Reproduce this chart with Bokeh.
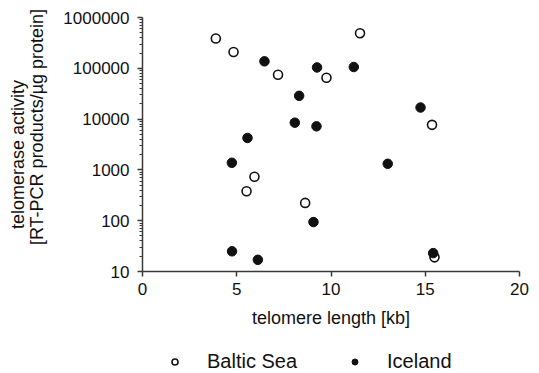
from bokeh.plotting import figure
from bokeh.layouts import column
from bokeh.models import (Range1d, FixedTicker, PrintfTickFormatter,
                          Legend, LegendItem, ColumnDataSource)
from bokeh.embed import file_html
from bokeh.resources import INLINE

# --- data ---
baltic_x = [3.89, 4.83, 7.19, 9.76, 11.54, 15.36, 5.94, 5.52, 8.63, 15.49]
baltic_y = [385000, 209000, 74600, 65200, 490000, 7700, 731, 380, 224, 19]
iceland_x = [6.47, 9.26, 11.21, 8.31, 8.08, 9.23, 5.57, 14.75, 4.74, 13.01,
             9.07, 4.75, 6.12, 15.42]
iceland_y = [137000, 104000, 106000, 28700, 8500, 7200, 4250, 16900, 1380,
             1320, 94, 25, 17, 23]
x_ticks = [0, 5, 10, 15, 20]
y_ticks = [10, 100, 1000, 10000, 100000, 1000000]
series_names = ["Baltic Sea", "Iceland"]
x_label = "telomere length [kb]"
y_label_lines = ["telomerase activity", "[RT-PCR products/\u00b5g protein]"]

FONT = "Liberation Sans"
AXIS_COL = "#3a3a3a"
INK = "#111111"
NB = "\u00a0"

p = figure(width=539, height=337, output_backend="svg", toolbar_location=None,
           y_axis_type="log", x_range=Range1d(0, 20), y_range=Range1d(10, 1e6),
           min_border_left=142, min_border_right=20, min_border_top=17,
           min_border_bottom=66, background_fill_color="white",
           border_fill_color="white")
p.outline_line_color = None
p.grid.visible = False

src_b = ColumnDataSource(dict(x=baltic_x, y=baltic_y))
src_i = ColumnDataSource(dict(x=iceland_x, y=iceland_y))
open_style = dict(marker="circle", fill_color="white", line_color=INK,
                  line_width=1.6)
fill_style = dict(marker="circle", fill_color=INK, line_color=INK,
                  line_width=1)
p.scatter("x", "y", source=src_b, size=9, **open_style)
p.scatter("x", "y", source=src_i, size=9.5, **fill_style)

# axes
xa = p.xaxis[0]
xa.ticker = FixedTicker(ticks=x_ticks)
xa.axis_label = x_label
ya = p.yaxis[0]
minor = [m * 10 ** e for e in range(1, 6) for m in range(2, 10)]
ya.ticker = FixedTicker(ticks=y_ticks, minor_ticks=minor)
ya.formatter = PrintfTickFormatter(format="%d")
ya.axis_label = y_label_lines[0] + NB * 4 + "\n" + NB * 7 + y_label_lines[1]

for ax in (xa, ya):
    ax.axis_line_color = AXIS_COL
    ax.axis_line_width = 1.5
    ax.major_tick_line_color = AXIS_COL
    ax.major_tick_line_width = 1.5
    ax.minor_tick_line_color = AXIS_COL
    ax.major_tick_in = 0
    ax.major_tick_out = 5
    ax.minor_tick_in = 0
    ax.major_label_text_font = FONT
    ax.major_label_text_font_size = "17px"
    ax.major_label_text_color = INK
    ax.axis_label_text_font = FONT
    ax.axis_label_text_font_size = "18px"
    ax.axis_label_text_font_style = "normal"
    ax.axis_label_text_color = INK
xa.minor_tick_out = 0
ya.minor_tick_out = 3
xa.major_label_standoff = 6
xa.axis_label_standoff = 10
ya.major_label_standoff = 8
ya.axis_label_standoff = 13
ya.axis_label_text_line_height = 0.95

# legend strip below the plot (shares the data sources; its view shows no points)
lg = figure(width=539, height=36, output_backend="svg", toolbar_location=None,
            x_axis_type=None, y_axis_type=None, x_range=Range1d(100, 101),
            y_range=Range1d(0, 1), min_border=0, min_border_left=0,
            min_border_right=0, min_border_top=0, min_border_bottom=0,
            background_fill_color="white", border_fill_color="white")
lg.outline_line_color = None
lg.grid.visible = False
lb = lg.scatter("x", "y", source=src_b, size=9, **open_style)
li = lg.scatter("x", "y", source=src_i, size=9, **fill_style)
legend = Legend(items=[LegendItem(label=series_names[0], renderers=[lb]),
                       LegendItem(label=series_names[1], renderers=[li])],
                orientation="horizontal", location=(25, 0),
                label_text_font=FONT, label_text_font_size="20px",
                label_text_color=INK,
                glyph_width=15, glyph_height=15, label_standoff=25,
                spacing=50, padding=0, margin=0,
                border_line_color=None, background_fill_alpha=0)
lg.add_layout(legend)

layout = column(p, lg, spacing=0)
open("out.html", "w").write(file_html(layout, INLINE))
